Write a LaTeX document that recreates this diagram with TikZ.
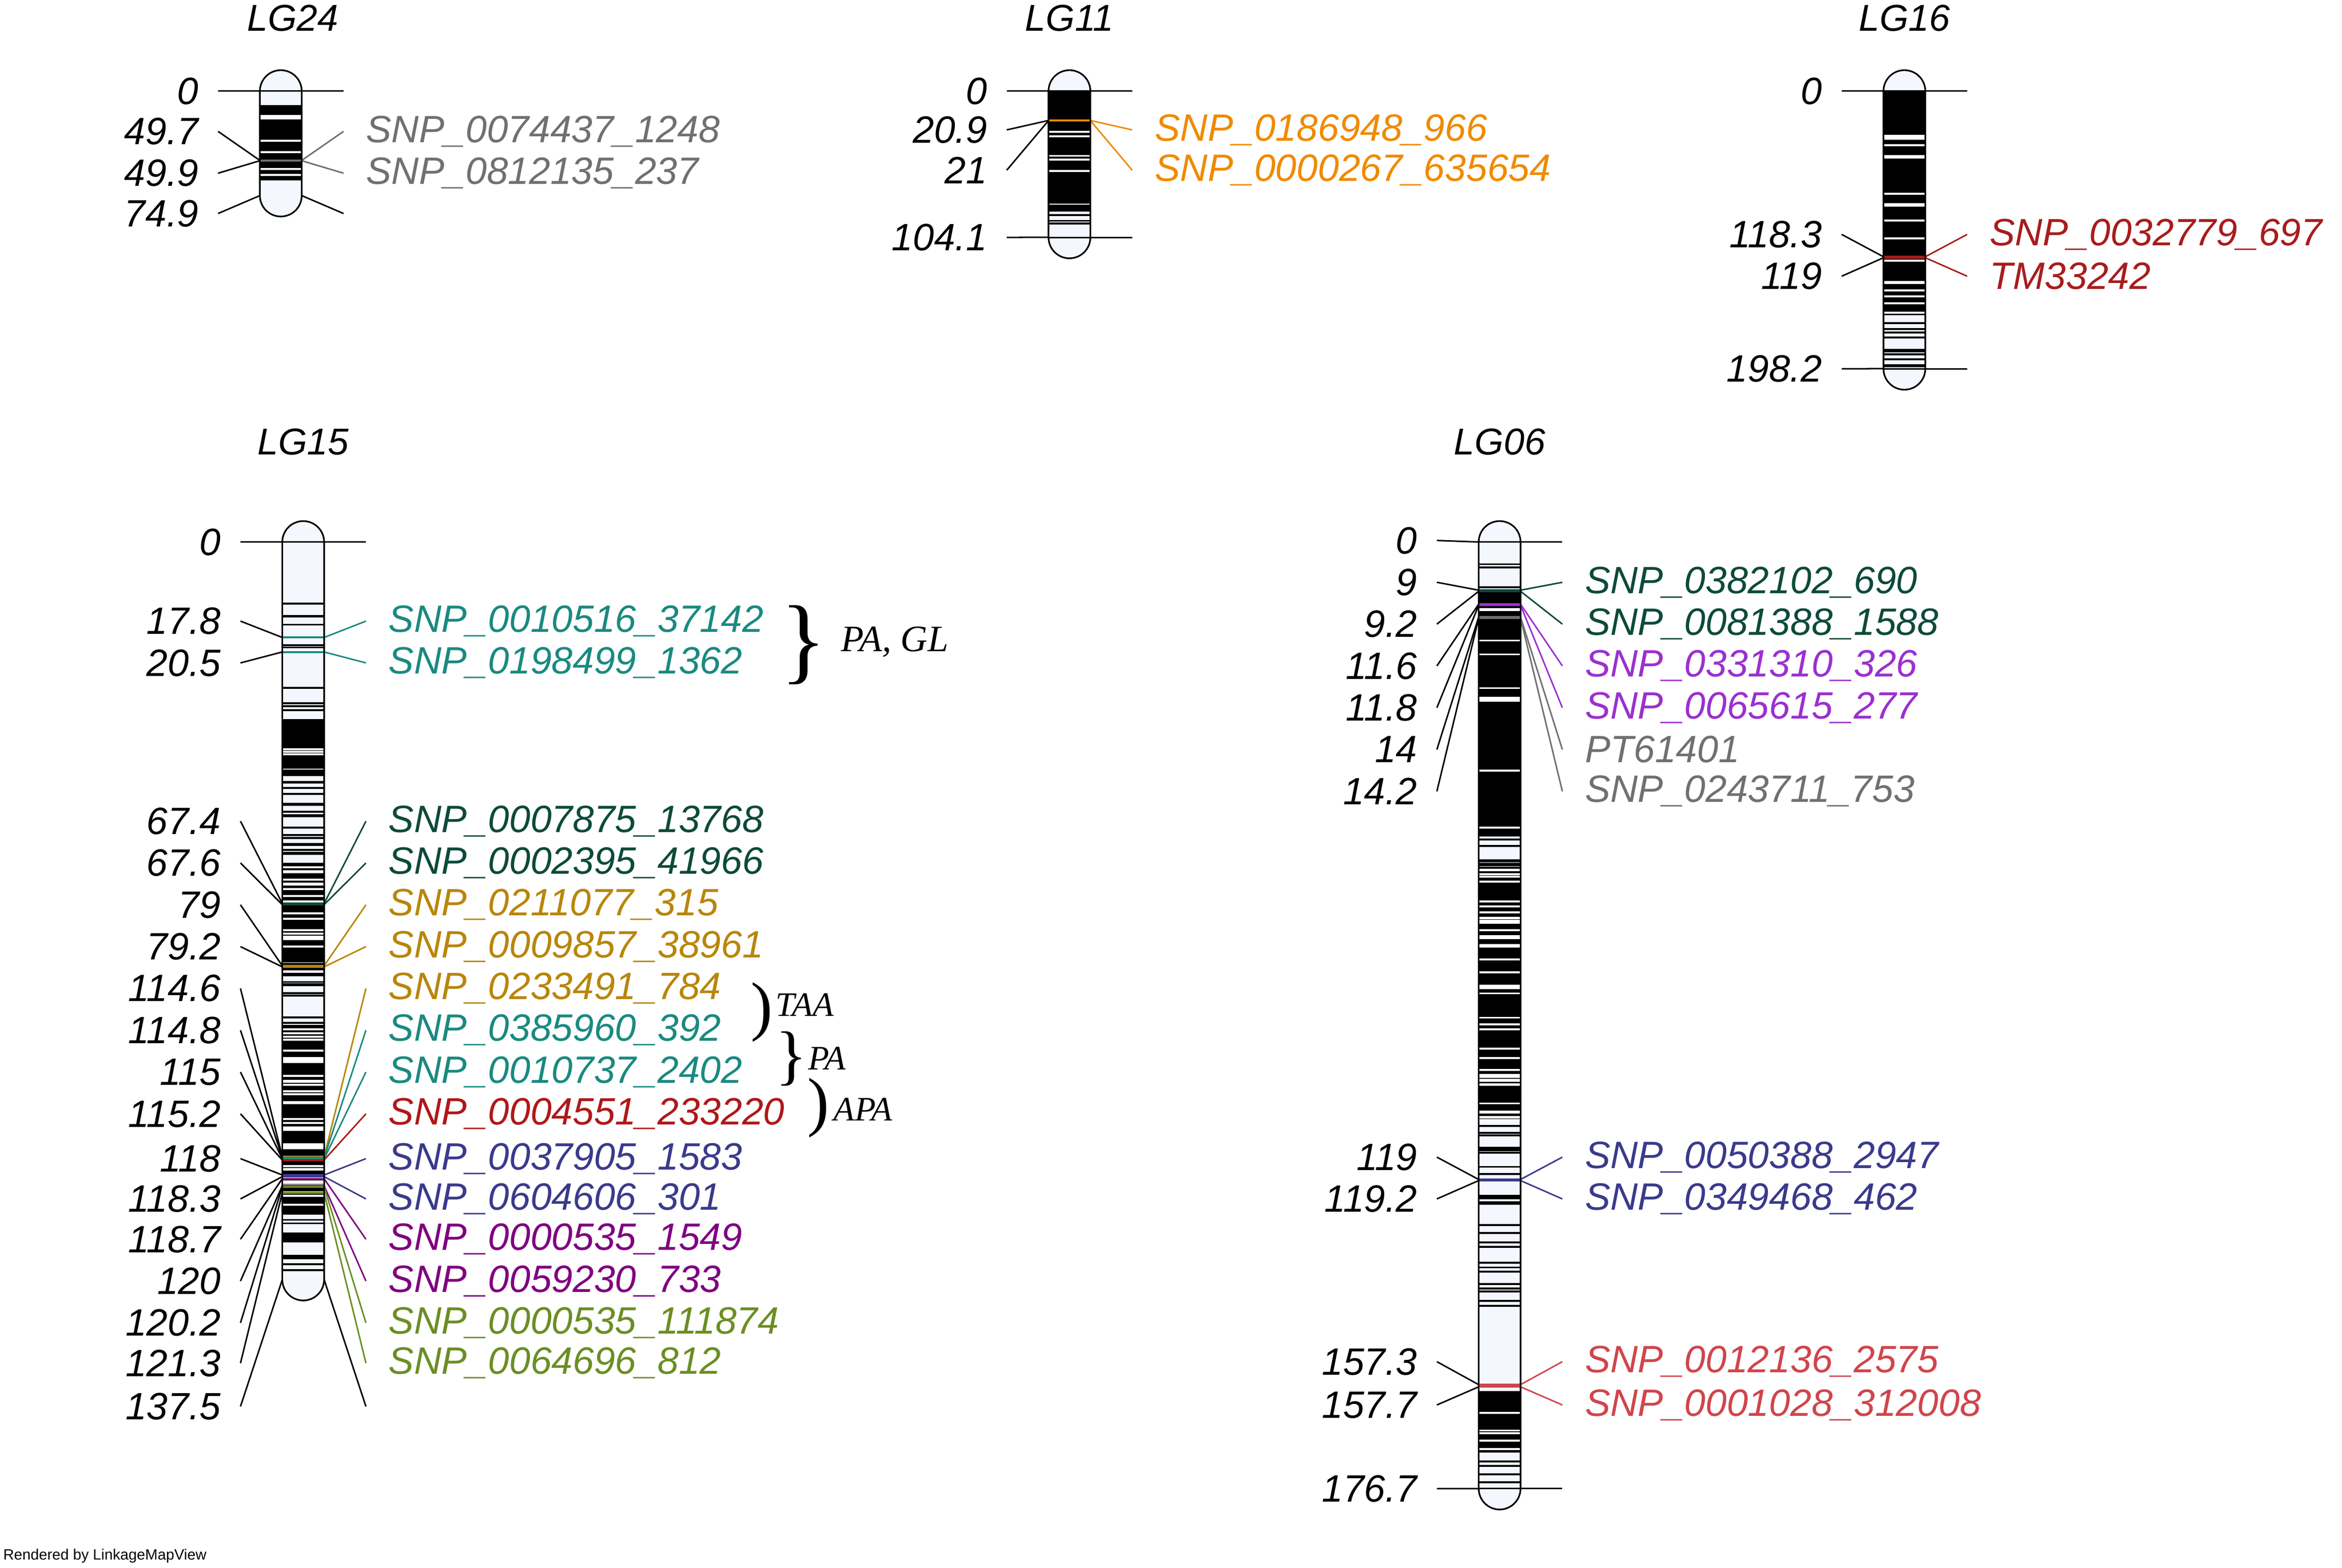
\documentclass[tikz,border=0pt]{standalone}
\usepackage{fontspec}
\setmainfont{Liberation Sans}
\newfontfamily\serifit{Liberation Serif}
\definecolor{cgray}{HTML}{707070}
\definecolor{corange}{HTML}{F08A00}
\definecolor{cdred}{HTML}{A81C1C}
\definecolor{cteal}{HTML}{1A8A80}
\definecolor{cdgreen}{HTML}{0D4A3A}
\definecolor{cgold}{HTML}{B8860B}
\definecolor{cred}{HTML}{B01818}
\definecolor{cnavy}{HTML}{3A3A8C}
\definecolor{cpurple}{HTML}{800080}
\definecolor{colive}{HTML}{6B8E23}
\definecolor{cviolet}{HTML}{9B30D0}
\definecolor{cpink}{HTML}{D0454C}
\definecolor{chrfill}{HTML}{F4F7FD}
\tikzset{lab/.style={font=\fontsize{25.5}{25.5}\selectfont\itshape,inner sep=0pt},
 band/.style={line width=1.3pt},
 conn/.style={line width=1pt},
 ttl/.style={font=\fontsize{25}{25}\selectfont\itshape,inner sep=0pt}}
\newcommand\chrom[3]{\draw[fill=chrfill,line width=1pt,rounded corners=14pt] (#1,#2-14) rectangle (#1+28,#3+14);}
\newcommand\chromo[3]{\draw[line width=1pt,rounded corners=14pt] (#1,#2-14) rectangle (#1+28,#3+14);}
\newcommand\bseg[6]{\foreach \i in {1,...,#6}{\pgfmathsetmacro\p{#4+rnd*(#5-#4)}\draw[band] (#1,{#2+\p*#3}) -- ++(28,0);}}
\newcommand\wseg[6]{\foreach \i in {1,...,#6}{\pgfmathsetmacro\p{#4+rnd*(#5-#4)}\draw[band,white] (#1,{#2+\p*#3}) -- ++(28,0);}}
\newcommand\kseg[5]{\fill (#1,{#2+#4*#3}) rectangle (#1+28,{#2+#5*#3});}
\newcommand\lmk[6]{\node[lab,anchor=east] at (#1-41,#5) {#6}; \draw[conn] (#1-28,#5) -- (#1,{#2+#4*#3});}
\newcommand\rmk[7]{\draw[band,#6] (#1,{#2+#4*#3}) -- ++(28,0); \draw[conn,#6] (#1+28,{#2+#4*#3}) -- (#1+56,#5); \node[lab,anchor=west,text=#6] at (#1+71,#5) {#7};}
\begin{document}
\begin{tikzpicture}[x=1pt,y=-1pt]
\pgfmathsetseed{7}
\fill[white] (0,0) rectangle (1568,1050);
\useasboundingbox (0,0) rectangle (1568,1050);
% ---------- LG24
\node[ttl] at (196,12) {LG24};
\chrom{174}{61}{131}
\kseg{174}{61}{0.9346}{10}{64}
\wseg{174}{61}{0.9346}{12}{62}{8}
\lmk{174}{61}{0.9346}{0}{61}{0}
\draw[conn] (174,61) -- (230,61);
\lmk{174}{61}{0.9346}{49.7}{88}{49.7}
\lmk{174}{61}{0.9346}{49.9}{116}{49.9}
\lmk{174}{61}{0.9346}{74.9}{143}{74.9}
\draw[conn] (202,131) -- (230,143);
\rmk{174}{61}{0.9346}{49.7}{88}{cgray}{SNP\_0074437\_1248}
\rmk{174}{61}{0.9346}{49.9}{116}{cgray}{SNP\_0812135\_237}
\chromo{174}{61}{131}
% ---------- LG11
\node[ttl] at (716,12) {LG11};
\chrom{702}{61}{159}
\kseg{702}{61}{0.941}{0}{80}
\wseg{702}{61}{0.941}{2}{78}{5}
\bseg{702}{61}{0.941}{80}{104}{8}
\lmk{702}{61}{0.941}{0}{61}{0}
\draw[conn] (702,61) -- (758,61);
\lmk{702}{61}{0.941}{20.9}{87}{20.9}
\lmk{702}{61}{0.941}{21}{114}{21}
\lmk{702}{61}{0.941}{104.1}{159}{104.1}
\draw[conn] (702,159) -- (758,159);
\rmk{702}{61}{0.941}{20.9}{87}{corange}{SNP\_0186948\_966}
\rmk{702}{61}{0.941}{21}{114}{corange}{SNP\_0000267\_635654}
\chromo{702}{61}{159}
% ---------- LG16
\node[ttl] at (1275,12) {LG16};
\chrom{1261}{61}{247}
\kseg{1261}{61}{0.938}{0}{160}
\wseg{1261}{61}{0.938}{28}{52}{6}
\wseg{1261}{61}{0.938}{52}{160}{12}
\bseg{1261}{61}{0.938}{160}{198}{10}
\lmk{1261}{61}{0.938}{0}{61}{0}
\draw[conn] (1261,61) -- (1317,61);
\lmk{1261}{61}{0.938}{118.3}{157}{118.3}
\lmk{1261}{61}{0.938}{119}{185}{119}
\lmk{1261}{61}{0.938}{198.2}{247}{198.2}
\draw[conn] (1261,247) -- (1317,247);
\rmk{1261}{61}{0.938}{118.3}{157}{cdred}{SNP\_0032779\_697}
\rmk{1261}{61}{0.938}{119}{185}{cdred}{TM33242}
\chromo{1261}{61}{247}
% ---------- LG15
\node[ttl] at (203,296) {LG15};
\chrom{189}{363}{857}
\bseg{189}{363}{3.593}{10}{32}{10}
\kseg{189}{363}{3.593}{33}{42}
\wseg{189}{363}{3.593}{33}{42}{3}
\bseg{189}{363}{3.593}{42}{62}{30}
\kseg{189}{363}{3.593}{62}{78}
\wseg{189}{363}{3.593}{62}{78}{14}
\bseg{189}{363}{3.593}{78}{90}{16}
\kseg{189}{363}{3.593}{90}{112}
\wseg{189}{363}{3.593}{90}{112}{22}
\kseg{189}{363}{3.593}{112}{125}
\wseg{189}{363}{3.593}{112}{125}{14}
\bseg{189}{363}{3.593}{125}{137.5}{14}
\lmk{189}{363}{3.593}{0}{363}{0}
\draw[conn] (189,363) -- (245,363);
\lmk{189}{363}{3.593}{17.8}{416}{17.8}
\lmk{189}{363}{3.593}{20.5}{444}{20.5}
\lmk{189}{363}{3.593}{67.4}{550}{67.4}
\lmk{189}{363}{3.593}{67.6}{578}{67.6}
\lmk{189}{363}{3.593}{79}{606}{79}
\lmk{189}{363}{3.593}{79.2}{634}{79.2}
\lmk{189}{363}{3.593}{114.6}{662}{114.6}
\lmk{189}{363}{3.593}{114.8}{690}{114.8}
\lmk{189}{363}{3.593}{115}{718}{115}
\lmk{189}{363}{3.593}{115.2}{746}{115.2}
\lmk{189}{363}{3.593}{118}{776}{118}
\lmk{189}{363}{3.593}{118.3}{803}{118.3}
\lmk{189}{363}{3.593}{118.7}{830}{118.7}
\lmk{189}{363}{3.593}{120}{858}{120}
\lmk{189}{363}{3.593}{120.2}{886}{120.2}
\lmk{189}{363}{3.593}{121.3}{913}{121.3}
\lmk{189}{363}{3.593}{137.5}{942}{137.5}
\draw[conn] (217,857) -- (245,942);
\rmk{189}{363}{3.593}{17.8}{416}{cteal}{SNP\_0010516\_37142}
\rmk{189}{363}{3.593}{20.5}{444}{cteal}{SNP\_0198499\_1362}
\rmk{189}{363}{3.593}{67.4}{550}{cdgreen}{SNP\_0007875\_13768}
\rmk{189}{363}{3.593}{67.6}{578}{cdgreen}{SNP\_0002395\_41966}
\rmk{189}{363}{3.593}{79}{606}{cgold}{SNP\_0211077\_315}
\rmk{189}{363}{3.593}{79.2}{634}{cgold}{SNP\_0009857\_38961}
\rmk{189}{363}{3.593}{114.6}{662}{cgold}{SNP\_0233491\_784}
\rmk{189}{363}{3.593}{114.8}{690}{cteal}{SNP\_0385960\_392}
\rmk{189}{363}{3.593}{115}{718}{cteal}{SNP\_0010737\_2402}
\rmk{189}{363}{3.593}{115.2}{746}{cred}{SNP\_0004551\_233220}
\rmk{189}{363}{3.593}{118}{776}{cnavy}{SNP\_0037905\_1583}
\rmk{189}{363}{3.593}{118.3}{803}{cnavy}{SNP\_0604606\_301}
\rmk{189}{363}{3.593}{118.7}{830}{cpurple}{SNP\_0000535\_1549}
\rmk{189}{363}{3.593}{120}{858}{cpurple}{SNP\_0059230\_733}
\rmk{189}{363}{3.593}{120.2}{886}{colive}{SNP\_0000535\_111874}
\rmk{189}{363}{3.593}{121.3}{913}{colive}{SNP\_0064696\_812}
\chromo{189}{363}{857}
% braces
\node[inner sep=0pt,font=\fontsize{64}{64}\selectfont\serifit] (b1) at (538,432) {\}};
\node[inner sep=0pt,anchor=west,font=\fontsize{25}{25}\selectfont\serifit\itshape] (t1) at (563,430) {PA, GL};
\node[inner sep=0pt,font=\fontsize{44}{44}\selectfont\serifit] (b2) at (510,678) {)};
\node[inner sep=0pt,anchor=west,font=\fontsize{23}{23}\selectfont\serifit\itshape] (t2) at (519,673) {TAA};
\node[inner sep=0pt,font=\fontsize{44}{44}\selectfont\serifit] (b3) at (530,709) {\}};
\node[inner sep=0pt,anchor=west,font=\fontsize{23}{23}\selectfont\serifit\itshape] (t3) at (541,709) {PA};
\node[inner sep=0pt,font=\fontsize{44}{44}\selectfont\serifit] (b4) at (548,742) {)};
\node[inner sep=0pt,anchor=west,font=\fontsize{23}{23}\selectfont\serifit\itshape] (t4) at (558,743) {APA};
% ---------- LG06
\node[ttl] at (1004,296) {LG06};
\chrom{990}{363}{997}
\bseg{990}{363}{3.588}{2}{9}{3}
\kseg{990}{363}{3.588}{9}{55}
\wseg{990}{363}{3.588}{9}{55}{10}
\bseg{990}{363}{3.588}{55}{62}{8}
\kseg{990}{363}{3.588}{62}{108}
\wseg{990}{363}{3.588}{62}{108}{40}
\bseg{990}{363}{3.588}{108}{130}{16}
\bseg{990}{363}{3.588}{130}{143}{10}
\kseg{990}{363}{3.588}{158.5}{170}
\wseg{990}{363}{3.588}{158.5}{170}{5}
\bseg{990}{363}{3.588}{170}{176}{4}
\lmk{990}{363}{3.588}{0}{362}{0}
\draw[conn] (990,363) -- (1046,363);
\lmk{990}{363}{3.588}{9}{390}{9}
\lmk{990}{363}{3.588}{9.2}{418}{9.2}
\lmk{990}{363}{3.588}{11.6}{446}{11.6}
\lmk{990}{363}{3.588}{11.8}{474}{11.8}
\lmk{990}{363}{3.588}{14}{502}{14}
\lmk{990}{363}{3.588}{14.2}{530}{14.2}
\lmk{990}{363}{3.588}{119}{775}{119}
\lmk{990}{363}{3.588}{119.2}{803}{119.2}
\lmk{990}{363}{3.588}{157.3}{912}{157.3}
\lmk{990}{363}{3.588}{157.7}{941}{157.7}
\lmk{990}{363}{3.588}{176.7}{997}{176.7}
\draw[conn] (990,997) -- (1046,997);
\rmk{990}{363}{3.588}{9}{390}{cdgreen}{SNP\_0382102\_690}
\rmk{990}{363}{3.588}{9.2}{418}{cdgreen}{SNP\_0081388\_1588}
\rmk{990}{363}{3.588}{11.6}{446}{cviolet}{SNP\_0331310\_326}
\rmk{990}{363}{3.588}{11.8}{474}{cviolet}{SNP\_0065615\_277}
\rmk{990}{363}{3.588}{14}{502}{cgray}{PT61401}
\rmk{990}{363}{3.588}{14.2}{530}{cgray}{SNP\_0243711\_753}
\rmk{990}{363}{3.588}{119}{775}{cnavy}{SNP\_0050388\_2947}
\rmk{990}{363}{3.588}{119.2}{803}{cnavy}{SNP\_0349468\_462}
\rmk{990}{363}{3.588}{157.3}{912}{cpink}{SNP\_0012136\_2575}
\rmk{990}{363}{3.588}{157.7}{941}{cpink}{SNP\_0001028\_312008}
\chromo{990}{363}{997}
\node[anchor=south west,inner sep=0pt,font=\fontsize{10}{10}\selectfont] (rb) at (2,1047) {Rendered by LinkageMapView};
\end{tikzpicture}
\end{document}
